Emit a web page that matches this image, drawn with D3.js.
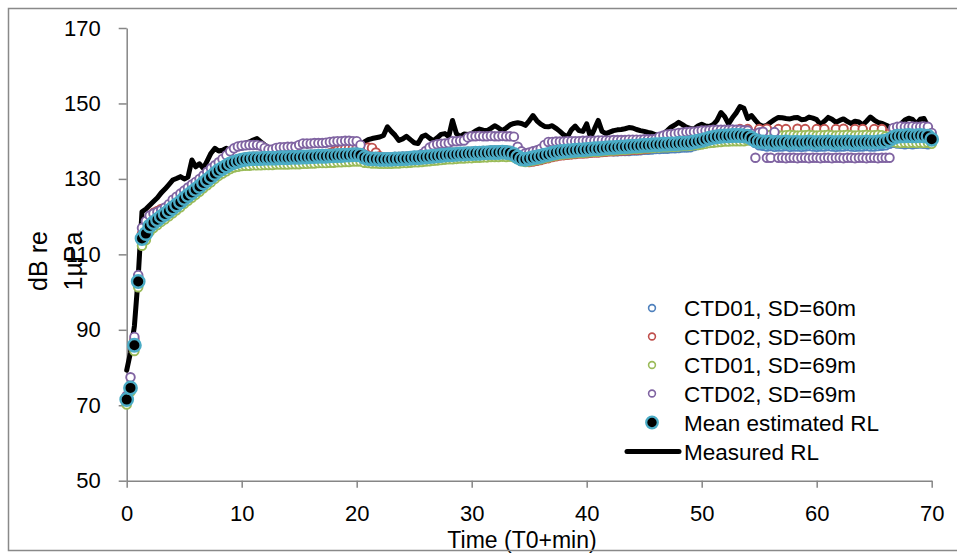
<!DOCTYPE html>
<html><head><meta charset="utf-8">
<script src="https://cdn.jsdelivr.net/npm/d3@7/dist/d3.min.js"></script>
<style>body{margin:0;background:#fff}svg{display:block}</style>
</head><body>
<svg id="chart" width="957" height="553"></svg>
<script>
const timeMin = [
0,0.33,0.67,1,1.33,1.67,2,2.33,2.67,3,3.33,3.67,4,4.33,4.67,5,5.33,5.67,6,6.33,6.67,7,7.33,7.67,8,8.33,8.67,9,9.33,9.67,
10,10.33,10.67,11,11.33,11.67,12,12.33,12.67,13,13.33,13.67,14,14.33,14.67,15,15.33,15.67,16,16.33,16.67,17,17.33,17.67,18,18.33,18.67,19,19.33,19.67,
20,20.33,20.67,21,21.33,21.67,22,22.33,22.67,23,23.33,23.67,24,24.33,24.67,25,25.33,25.67,26,26.33,26.67,27,27.33,27.67,28,28.33,28.67,29,29.33,29.67,
30,30.33,30.67,31,31.33,31.67,32,32.33,32.67,33,33.33,33.67,34,34.33,34.67,35,35.33,35.67,36,36.33,36.67,37,37.33,37.67,38,38.33,38.67,39,39.33,39.67,
40,40.33,40.67,41,41.33,41.67,42,42.33,42.67,43,43.33,43.67,44,44.33,44.67,45,45.33,45.67,46,46.33,46.67,47,47.33,47.67,48,48.33,48.67,49,49.33,49.67,
50,50.33,50.67,51,51.33,51.67,52,52.33,52.67,53,53.33,53.67,54,54.33,54.67,55,55.33,55.67,56,56.33,56.67,57,57.33,57.67,58,58.33,58.67,59,59.33,59.67,
60,60.33,60.67,61,61.33,61.67,62,62.33,62.67,63,63.33,63.67,64,64.33,64.67,65,65.33,65.67,66,66.33,66.67,67,67.33,67.67,68,68.33,68.67,69,69.33,69.67,
70];

const ctd01sd60 = [
71.0,74.2,85.4,102.2,113.6,115.0,117.0,117.9,118.7,119.5,
120.2,121.0,121.8,122.6,123.4,124.3,125.1,125.9,126.7,127.5,
128.4,129.2,130.0,130.9,131.7,132.3,132.9,133.5,133.9,134.2,
134.5,134.7,134.8,134.9,134.9,134.9,135.0,135.0,135.0,135.0,
135.1,135.1,135.1,135.2,135.2,135.2,135.3,135.3,135.4,135.4,
135.5,135.5,135.5,135.6,135.6,135.7,135.7,135.8,135.8,135.9,
135.9,135.8,135.3,135.0,134.9,134.8,134.7,134.6,134.6,134.6,
134.6,134.6,134.7,134.7,134.8,134.9,134.9,135.0,135.1,135.2,
135.3,135.4,135.5,135.6,135.7,135.7,135.8,135.7,135.7,135.8,
135.8,135.9,135.9,136.0,136.0,136.1,136.1,136.1,136.2,136.1,
136.1,135.9,135.4,134.9,134.8,135.0,135.2,135.4,135.6,135.9,
136.1,136.4,136.6,136.8,136.9,137.0,137.1,137.2,137.3,137.3,
137.4,137.5,137.5,137.4,137.4,137.4,137.4,137.3,137.3,137.4,
137.4,137.4,137.5,137.5,137.6,137.7,137.7,137.8,137.9,137.9,
138.0,138.0,138.1,138.1,138.2,138.3,138.3,138.4,138.7,139.0,
139.4,139.8,140.2,140.5,140.7,140.8,140.9,140.9,141.0,141.0,
141.0,140.9,140.8,140.2,139.5,138.9,138.8,138.6,138.7,138.5,
138.6,138.6,138.7,138.5,138.6,138.6,138.5,138.6,138.7,138.6,
138.5,138.6,138.6,138.7,138.6,138.5,138.6,138.6,138.7,138.6,
138.5,138.6,138.6,138.7,138.6,138.6,138.7,138.8,138.9,139.3,
139.6,139.4,139.3,139.2,139.3,139.2,139.3,139.4,139.3,139.2,139.5];

const ctd02sd60 = [
72.0,75.2,87.3,104.0,115.5,118.0,120.0,121.0,121.5,122.0,
122.0,122.3,122.8,123.6,124.4,125.3,126.1,126.9,127.7,128.5,
129.4,130.2,131.0,131.9,132.7,133.3,133.9,134.5,134.9,135.2,
135.5,135.7,135.8,135.9,135.9,135.9,136.0,136.0,136.0,136.0,
136.1,136.1,136.1,136.2,136.2,136.2,136.3,136.3,136.4,136.4,
136.5,136.5,136.6,136.8,137.2,137.6,137.8,138.0,138.1,138.2,
138.2,138.0,138.2,138.3,138.2,137.0,136.0,135.7,135.7,135.7,
135.8,135.8,135.9,135.9,136.0,136.1,136.1,136.2,136.3,136.4,
136.5,136.6,136.7,136.8,136.9,136.9,137.0,137.1,137.1,137.2,
137.2,137.3,137.3,137.4,137.4,137.5,137.5,137.5,137.6,137.5,
137.4,137.0,136.3,135.8,135.4,134.5,134.6,134.8,135.0,135.3,
135.5,135.8,136.0,136.2,136.3,136.4,136.5,136.6,136.7,136.7,
136.8,136.9,137.0,137.0,137.1,137.2,137.3,137.3,137.4,137.5,
137.5,137.6,137.7,137.7,137.8,137.9,138.0,138.5,139.2,139.5,
139.7,139.7,139.8,139.8,139.9,140.0,140.0,140.1,140.3,140.5,
140.7,141.0,141.3,141.5,141.7,141.8,141.9,141.9,142.0,142.5,
143.2,141.5,143.2,141.3,141.0,143.2,141.0,143.3,141.0,141.0,
143.2,141.0,143.2,141.0,141.0,143.3,141.0,143.2,141.0,141.0,
143.2,141.0,143.2,141.0,141.0,143.2,141.0,143.3,141.0,141.0,
143.2,141.0,143.2,141.0,141.0,143.2,141.0,143.2,141.0,142.0,
143.0,143.0,143.1,143.0,143.1,143.0,143.1,143.0,143.1,143.0,141.5];

const ctd01sd69 = [
70.2,73.6,84.4,101.3,112.3,113.8,116.0,117.0,117.8,118.6,
119.3,120.1,120.9,121.7,122.5,123.4,124.2,125.0,125.8,126.6,
127.5,128.3,129.1,130.0,130.8,131.4,132.0,132.6,133.0,133.2,
133.4,133.5,133.5,133.6,133.6,133.6,133.7,133.7,133.7,133.8,
133.8,133.8,133.8,133.9,133.9,133.9,134.0,134.0,134.1,134.1,
134.2,134.2,134.2,134.3,134.3,134.4,134.4,134.5,134.5,134.6,
134.6,134.6,134.3,134.2,134.1,134.1,134.0,134.0,134.0,134.0,
134.1,134.1,134.2,134.2,134.3,134.4,134.4,134.5,134.6,134.7,
134.8,134.9,135.0,135.1,135.2,135.2,135.3,135.4,135.4,135.5,
135.5,135.6,135.6,135.7,135.7,135.8,135.8,135.8,135.9,135.8,
135.9,135.7,135.2,134.7,134.5,134.6,134.8,135.0,135.2,135.5,
135.7,136.0,136.2,136.4,136.5,136.6,136.7,136.8,136.9,136.9,
137.0,137.1,137.2,137.2,137.3,137.4,137.5,137.5,137.6,137.7,
137.7,137.8,137.9,137.9,138.0,138.1,138.1,138.2,138.3,138.3,
138.4,138.4,138.5,138.5,138.6,138.7,138.7,138.8,138.9,139.0,
139.1,139.3,139.5,139.6,139.7,139.8,139.9,139.9,140.0,140.0,
140.0,140.0,140.2,140.8,141.6,141.6,141.5,141.6,141.7,141.6,
141.6,141.5,141.6,141.7,141.6,141.5,141.6,141.6,141.7,141.6,
141.5,141.6,141.6,141.7,141.6,141.5,141.6,141.6,141.7,141.6,
141.5,141.6,141.6,141.7,141.6,141.6,141.7,141.6,141.3,140.5,
139.8,139.6,139.5,139.6,139.5,139.6,139.5,139.6,139.5,139.6,139.3];

const ctd02sd69 = [
72.5,77.4,88.1,104.5,117.0,118.8,120.3,120.8,121.2,121.7,
122.4,123.3,124.5,125.3,126.1,126.9,127.7,128.5,129.2,130.0,
130.9,131.9,132.8,133.6,134.4,135.3,136.3,137.3,138.1,138.6,
138.8,138.9,139.0,139.0,139.0,138.8,138.2,137.8,137.8,138.2,
138.4,138.4,138.5,138.5,138.5,139.0,139.4,139.4,139.4,139.5,
139.5,139.5,139.6,139.8,139.9,140.0,140.0,140.1,140.1,140.0,
140.0,139.0,136.5,135.9,135.8,135.8,135.7,135.7,135.7,135.7,
135.8,135.8,135.9,135.9,136.0,136.1,136.1,136.6,137.4,138.3,
138.9,139.2,139.3,139.4,139.5,140.0,140.0,140.1,140.2,141.0,
141.3,141.3,141.4,141.3,141.3,141.4,141.3,141.3,141.4,141.3,
141.3,141.2,138.5,137.3,136.8,137.0,137.3,137.6,138.0,139.0,
139.8,139.8,139.9,139.9,139.9,140.0,140.0,140.0,140.0,140.1,
140.1,140.1,140.1,140.2,140.2,140.2,140.2,140.3,140.3,140.3,
140.3,140.4,140.4,140.4,140.4,140.5,140.5,140.5,140.6,141.2,
141.5,141.8,141.9,142.0,142.2,142.3,142.4,142.5,142.5,142.6,
142.8,142.8,142.9,143.0,143.0,143.0,143.0,143.0,143.1,143.0,
143.0,142.9,142.8,142.0,135.6,142.3,142.5,135.6,135.6,142.4,
135.6,135.6,135.5,135.6,135.6,135.5,135.6,135.6,135.5,135.6,
135.6,135.5,135.6,135.6,135.5,135.6,135.6,135.5,135.6,135.6,
135.5,135.6,135.6,135.5,135.6,135.6,135.5,135.6,135.6,135.6,
143.5,143.8,143.9,143.8,143.8,143.9,143.8,143.8,143.9,143.8,142.2];

const meanEstimatedRL = [
71.5,74.6,85.9,102.8,114.2,115.5,117.5,118.4,119.2,120.0,
120.7,121.5,122.3,123.1,123.9,124.8,125.6,126.4,127.2,128.0,
128.9,129.7,130.5,131.4,132.2,132.8,133.4,134.0,134.4,134.7,
135.0,135.2,135.3,135.4,135.4,135.4,135.5,135.5,135.5,135.5,
135.6,135.6,135.6,135.7,135.7,135.7,135.8,135.8,135.9,135.9,
136.0,136.0,136.0,136.1,136.1,136.2,136.2,136.3,136.3,136.4,
136.4,136.3,135.7,135.4,135.3,135.3,135.2,135.2,135.2,135.2,
135.3,135.3,135.4,135.4,135.5,135.6,135.6,135.7,135.8,135.9,
136.0,136.1,136.2,136.3,136.4,136.4,136.5,136.6,136.6,136.7,
136.7,136.8,136.8,136.9,136.9,137.0,137.0,137.0,137.1,137.0,
136.9,136.5,135.8,135.3,135.2,135.4,135.6,135.8,136.0,136.3,
136.5,136.8,137.0,137.2,137.3,137.4,137.5,137.6,137.7,137.7,
137.8,137.9,138.0,138.0,138.1,138.2,138.3,138.3,138.4,138.5,
138.5,138.6,138.7,138.7,138.8,138.9,138.9,139.0,139.1,139.1,
139.2,139.2,139.3,139.3,139.4,139.5,139.5,139.6,139.8,140.0,
140.2,140.5,140.8,141.0,141.2,141.3,141.4,141.4,141.5,141.5,
141.5,141.4,141.3,140.8,140.2,139.9,139.8,139.7,139.8,139.6,
139.7,139.7,139.8,139.6,139.7,139.7,139.6,139.7,139.8,139.7,
139.6,139.7,139.7,139.8,139.7,139.6,139.7,139.7,139.8,139.7,
139.6,139.7,139.7,139.8,139.7,139.7,139.8,139.9,140.0,140.4,
141.0,141.3,141.4,141.4,141.5,141.4,141.4,141.5,141.4,141.3,140.5];

const measuredRL = [
79.3,84.0,91.0,104.0,121.3,122.0,123.0,124.0,125.0,126.3,
127.3,128.5,129.7,130.1,130.6,130.0,130.5,135.0,133.2,134.0,
132.8,134.8,136.8,138.1,137.4,137.6,138.1,137.2,138.3,139.0,
139.4,139.4,139.8,140.3,140.7,139.8,139.0,138.3,137.6,137.8,
138.3,138.0,138.5,138.8,138.4,138.9,139.2,138.7,139.0,139.3,
138.9,139.2,139.5,139.1,139.4,139.6,139.2,139.5,139.7,139.8,
139.4,139.0,139.8,140.4,140.7,140.9,141.1,141.5,143.8,142.6,
141.6,140.2,140.6,141.3,140.4,139.6,139.4,141.2,141.6,140.8,
140.1,140.9,141.8,142.0,141.2,145.5,142.0,141.2,141.9,141.8,
142.0,142.7,143.2,142.9,142.8,143.4,144.1,143.5,142.8,143.5,
144.3,144.7,144.9,144.7,144.2,145.4,146.8,145.4,144.5,143.9,
143.8,144.1,143.4,142.6,141.7,141.2,143.0,144.0,142.8,142.6,
144.6,141.0,143.2,145.5,142.6,142.0,142.4,142.8,143.0,143.1,
143.3,143.6,143.5,143.1,142.8,142.6,142.3,142.1,141.7,141.4,
142.0,142.8,143.7,144.3,145.0,144.4,143.7,143.4,143.2,144.0,
144.5,144.0,143.9,144.4,145.5,147.6,146.5,144.6,146.2,147.5,
149.2,148.7,146.0,146.8,145.5,144.4,143.9,144.2,145.0,145.7,
146.3,146.2,146.0,145.9,146.2,146.3,145.7,145.8,146.4,146.1,
145.7,144.4,145.3,146.3,145.8,145.0,145.5,145.9,145.2,144.7,
145.3,145.1,144.3,145.3,146.4,145.6,145.0,144.7,144.3,143.8,
143.7,143.7,144.6,145.6,146.1,145.8,144.6,145.8,146.0,143.9,142.8];

const yTickValues = [50,70,90,110,130,150,170];
const xTickValues = [0,10,20,30,40,50,60,70];
const hollowNames = ["CTD01, SD=60m","CTD02, SD=60m","CTD01, SD=69m","CTD02, SD=69m"];
const meanName = "Mean estimated RL";
const lineName = "Measured RL";
const xTitle = "Time (T0+min)";
const yTitleLines = ["dB re","1µPa"];

const hollowSeries = [ctd01sd60, ctd02sd60, ctd01sd69, ctd02sd69];
const hollowColors = ["#4F81BD","#C0504D","#9BBB59","#8064A2"];
const FONT = "'Liberation Sans', Arial, sans-serif";
const AXIS_GRAY = "#868686";

const svg = d3.select("#chart");
const x = d3.scaleLinear().domain([0,70]).range([126.7,931.7]);
const y = d3.scaleLinear().domain([50,170]).range([480.7,28]);

// axes
const yAxis = svg.append("g").attr("transform","translate(126.7,0)")
  .call(d3.axisLeft(y).tickValues(yTickValues).tickSize(8).tickSizeOuter(0).tickPadding(18).tickFormat(d3.format("d")));
const xAxis = svg.append("g").attr("transform","translate(0,480.7)")
  .call(d3.axisBottom(x).tickValues(xTickValues).tickSize(7).tickSizeOuter(0).tickPadding(18).tickFormat(d3.format("d")));
[yAxis,xAxis].forEach(g=>{
  g.select(".domain").attr("stroke",AXIS_GRAY).attr("stroke-width",1.5);
  g.selectAll(".tick line").attr("stroke",AXIS_GRAY).attr("stroke-width",1.5);
  g.selectAll(".tick text").attr("fill","#000").style("font-family",FONT).style("font-size","22px");
});

// measured line
const pts = timeMin.map((t,i)=>({t, v: measuredRL[i]}));
svg.append("path").datum(pts)
  .attr("fill","none").attr("stroke","#000").attr("stroke-width",5)
  .attr("stroke-linejoin","round").attr("stroke-linecap","round")
  .attr("d", d3.line().x(d=>x(d.t)).y(d=>y(d.v)));

// hollow series
hollowSeries.forEach((s,k)=>{
  svg.append("g").selectAll("circle").data(timeMin.map((t,i)=>({t,v:s[i]})))
    .join("circle")
    .attr("cx",d=>x(d.t)).attr("cy",d=>y(d.v)).attr("r",4.3)
    .attr("fill","#fff").attr("stroke",hollowColors[k]).attr("stroke-width",1.9);
});

// mean
svg.append("g").selectAll("circle").data(timeMin.map((t,i)=>({t,v:meanEstimatedRL[i]})))
  .join("circle")
  .attr("cx",d=>x(d.t)).attr("cy",d=>y(d.v)).attr("r",6.2)
  .attr("fill","#000").attr("stroke","#4BACC6").attr("stroke-width",2.4);

// legend
const legRows = [308,336.5,365,393.5,422.5,451.5];
const leg = svg.append("g");
hollowNames.forEach((n,k)=>{
  leg.append("circle").attr("cx",652).attr("cy",legRows[k]).attr("r",3.4)
    .attr("fill","#fff").attr("stroke",hollowColors[k]).attr("stroke-width",1.6);
});
leg.append("circle").attr("cx",652).attr("cy",legRows[4]).attr("r",5.8)
  .attr("fill","#000").attr("stroke","#4BACC6").attr("stroke-width",2.2);
leg.append("line").attr("x1",627).attr("x2",679).attr("y1",legRows[5]).attr("y2",legRows[5])
  .attr("stroke","#000").attr("stroke-width",5).attr("stroke-linecap","round");
[...hollowNames, meanName, lineName].forEach((n,k)=>{
  leg.append("text").attr("x",684).attr("y",legRows[k]).attr("dy","0.36em")
    .style("font-family",FONT).style("font-size","22.5px").attr("fill","#000").text(n);
});

// titles
svg.append("text").attr("x",522).attr("y",547.5).attr("text-anchor","middle")
  .style("font-family",FONT).style("font-size","23px").attr("fill","#000").text(xTitle);
const yt = svg.append("g").attr("transform","rotate(-90)");
yTitleLines.forEach((s,k)=>{
  yt.append("text").attr("x",-261).attr("y",[46.5,81.5][k]).attr("text-anchor","middle")
    .style("font-family",FONT).style("font-size","25px").attr("fill","#000").text(s);
});

// chart border
svg.append("rect").attr("x",8.5).attr("y",8.5).attr("width",980).attr("height",542)
  .attr("fill","none").attr("stroke","#898989").attr("stroke-width",1.5);
</script>
</body></html>
